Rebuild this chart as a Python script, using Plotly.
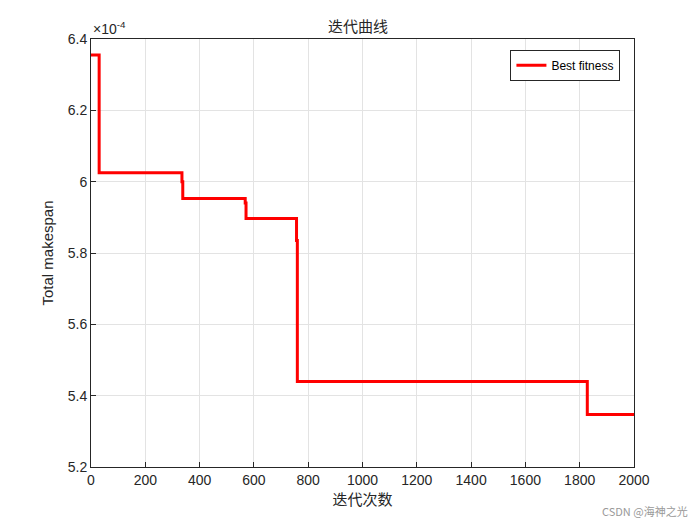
import plotly.graph_objects as go

iters = [0, 30, 30, 335, 335, 338, 338, 568, 568, 571, 571, 757, 757, 760, 760, 1828, 1828, 2000]
fitness = [6.355, 6.355, 6.025, 6.025, 6.0, 6.0, 5.953, 5.953, 5.94, 5.94, 5.897, 5.897, 5.835, 5.835, 5.44, 5.44, 5.347, 5.347]
xticks = [0, 200, 400, 600, 800, 1000, 1200, 1400, 1600, 1800, 2000]
yticks = [5.2, 5.4, 5.6, 5.8, 6.0, 6.2, 6.4]
ylabels = ["5.2", "5.4", "5.6", "5.8", "6", "6.2", "6.4"]

fig = go.Figure(go.Scatter(x=iters, y=fitness, mode="lines", name="Best fitness",
                           line=dict(color="red", width=3)))
ax = dict(showline=True, mirror=True, linecolor="#262626", linewidth=1, ticks="inside",
          ticklen=5, tickcolor="#262626", gridcolor="#e3e3e3", zeroline=False,
          tickfont=dict(family="Liberation Sans", size=14, color="#262626"))
fig.update_xaxes(range=[0, 2000], tickvals=xticks, title=dict(text="迭代次数", standoff=4,
                 font=dict(family="Noto Sans CJK SC", size=15, color="#262626")), **ax)
fig.update_yaxes(range=[5.2, 6.4], tickvals=yticks, ticktext=ylabels,
                 title=dict(text="Total makespan", standoff=10,
                 font=dict(family="Liberation Sans", size=15, color="#262626")), **ax)
fig.update_layout(width=700, height=525, margin=dict(l=83, r=74, t=31, b=66),
                  plot_bgcolor="white", paper_bgcolor="white",
                  title=dict(text="迭代曲线", x=0.5, xanchor="center", y=0.975,
                             font=dict(family="Noto Sans CJK SC", size=15, color="#262626")),
                  showlegend=True,
                  legend=dict(x=0.975, y=0.975, xanchor="right", yanchor="top",
                              bordercolor="#262626", borderwidth=1, bgcolor="white",
                              font=dict(family="Liberation Sans", size=12, color="black")),
                  annotations=[
                      dict(text="×10<sup>-4</sup>", x=0, y=1, xref="paper", yref="paper",
                           xanchor="left", yanchor="bottom", showarrow=False,
                           font=dict(family="Liberation Sans", size=14, color="#262626")),
                      dict(text="CSDN @海神之光", x=1, y=0, xref="paper", yref="paper",
                           xanchor="right", yanchor="middle", yshift=-44, xshift=56, showarrow=False,
                           font=dict(family="Noto Sans CJK SC", size=11, color="#999999")),
                  ])
fig.write_html("out.html")
